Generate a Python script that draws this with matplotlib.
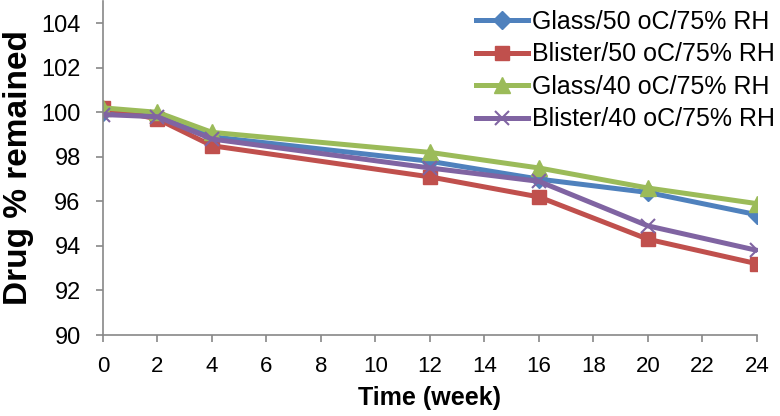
import matplotlib.pyplot as plt

plt.rcParams['font.family'] = ['Liberation Sans', 'DejaVu Sans']
plt.rcParams['xtick.labelsize'] = 16
plt.rcParams['ytick.labelsize'] = 17

weeks = [0, 2, 4, 12, 16, 20, 24]
glass_50 = [100.0, 99.8, 98.9, 97.8, 97.0, 96.4, 95.4]
blister_50 = [100.2, 99.7, 98.5, 97.1, 96.2, 94.3, 93.2]
glass_40 = [100.2, 100.0, 99.1, 98.2, 97.5, 96.6, 95.9]
blister_40 = [99.9, 99.8, 98.8, 97.5, 96.9, 94.9, 93.8]
labels = ["Glass/50 oC/75% RH", "Blister/50 oC/75% RH",
          "Glass/40 oC/75% RH", "Blister/40 oC/75% RH"]

fig = plt.figure(figsize=(7.8, 4.16), dpi=100)
ax = fig.add_axes([0.132, 0.1947, 0.8385, 0.803])

ax.plot(weeks, glass_50, color='#4F81BD', lw=3.6, marker='D', ms=9, label=labels[0])
ax.plot(weeks, blister_50, color='#C0504D', lw=3.6, marker='s', ms=10, label=labels[1])
ax.plot(weeks, glass_40, color='#9BBB59', lw=3.6, marker='^', ms=11, label=labels[2])
ax.plot(weeks, blister_40, color='#8064A2', lw=3.6, marker='x', ms=10, mew=1.5, label=labels[3])

ax.set_xlim(0, 24)
ax.set_ylim(90, 105)
ax.set_xticks(range(0, 25, 2))
ax.set_yticks(range(90, 105, 2))
ax.tick_params(color='#888888', length=5, width=1.2)
ax.tick_params(axis='x', pad=10)
ax.tick_params(axis='y', pad=11)
for s in ['top', 'right']:
    ax.spines[s].set_visible(False)
for s in ['left', 'bottom']:
    ax.spines[s].set_color('#888888')
    ax.spines[s].set_linewidth(1.2)
    ax.spines[s].set_clip_on(False)

ax.set_xlabel("Time (week)", fontsize=18, fontweight='bold')
ax.set_ylabel("Drug % remained", fontsize=24, fontweight='bold')
ax.xaxis.set_label_coords(0.5, -0.152)
ax.yaxis.set_label_coords(-0.105, 0.5)

fig.legend(loc='upper right', bbox_to_anchor=(1.0, 0.988), frameon=False, fontsize=18,
           handlelength=2.1, handletextpad=0.15, labelspacing=0.34, borderaxespad=0.1,
           borderpad=0.1)

fig.savefig('out.png')
